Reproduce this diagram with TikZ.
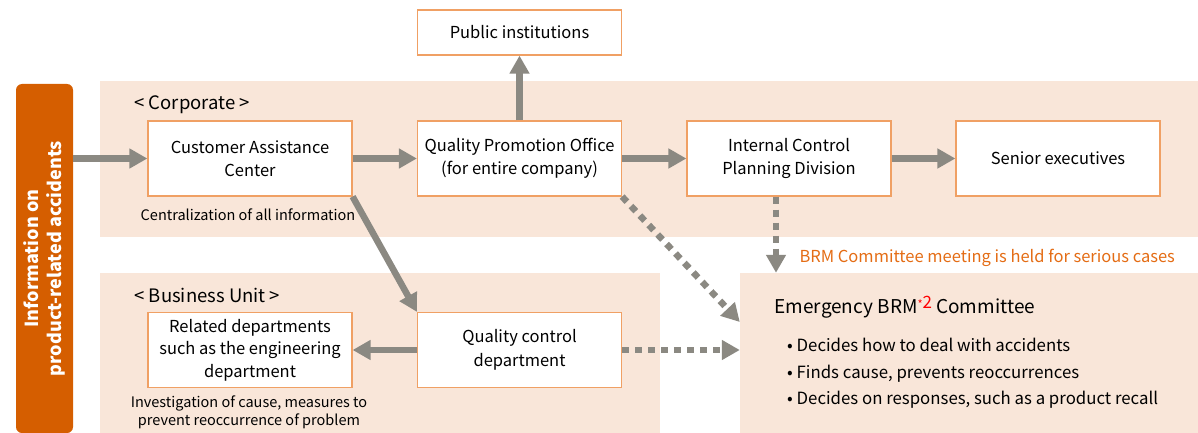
\documentclass[tikz,border=0pt]{standalone}
\usepackage{fontspec}
\setmainfont{Noto Sans CJK JP}
\usetikzlibrary{arrows.meta, positioning, calc}
\definecolor{bandpeach}{RGB}{249,230,217}
\definecolor{infoorange}{RGB}{213,94,0}
\definecolor{boxedge}{RGB}{240,160,100}
\definecolor{arrowgray}{RGB}{139,137,130}
\definecolor{noteorange}{RGB}{228,108,20}

\tikzset{
  unitbox/.style={draw=boxedge, line width=1.2pt, fill=white, inner sep=0pt,
    minimum width=204pt, minimum height=75pt, align=center,
    font=\fontsize{16.5}{23.5}\selectfont},
  infotag/.style={fill=infoorange, text=white, rounded corners=6pt, rotate=90,
    minimum width=349pt, minimum height=57pt, inner sep=0pt, align=center,
    font=\bfseries\fontsize{18}{23.5}\selectfont},
  flowarrow/.style={draw=arrowgray, line width=6.5pt,
    -{Triangle[length=18pt,width=19pt]}},
  dotarrow/.style={flowarrow, dash pattern=on 7pt off 6pt},
  caption/.style={anchor=base, align=center, font=\fontsize{14.5}{18}\selectfont},
  unitlabel/.style={anchor=base west, font=\fontsize{18.5}{21}\selectfont}
}

\begin{document}
\begin{tikzpicture}[x=1pt, y=-1pt]
  \useasboundingbox (0,0) rectangle (1198,433);

  % Bands
  \fill[bandpeach] (100,81) rectangle (1198,237);
  \fill[bandpeach] (100,273) rectangle (660,433);
  \node[fill=bandpeach, minimum width=458pt, minimum height=160pt, inner sep=0pt]
    (emerg) at (969,353) {};

  % Information source
  \node[infotag] (info) at (44.5,258.5) {Information on\\product-related accidents};

  % Corporate
  \node[unitlabel] at (131,110) {< Corporate >};
  \node[unitbox, minimum height=45pt] (pub) at (519.5,32.5) {Public institutions};
  \node[unitbox] (cac) at (250,158.5) {Customer Assistance\\Center};
  \node[unitbox] (qpo) at (519.5,158.5) {Quality Promotion Office\\(for entire company)};
  \node[unitbox] (icpd) at (789,158.5) {Internal Control\\Planning Division};
  \node[unitbox] (senior) at (1058,158.5) {Senior executives};
  \node[caption] at (248,220) {Centralization of all information};

  % Business Unit
  \node[unitlabel] at (131,302) {< Business Unit >};
  \node[unitbox, font=\fontsize{16.5}{22.5}\selectfont] (rel) at (250,350)
    {Related departments\\such as the engineering\\department};
  \node[unitbox] (qcd) at (519.5,350) {Quality control\\department};
  \node[caption] at (249,425) {Investigation of cause, measures to\\prevent reoccurrence of problem};

  % Emergency committee
  \node[anchor=base west, text=noteorange, font=\fontsize{16.5}{20}\selectfont]
    at (796,262) {BRM Committee meeting is held for serious cases};
  \node[anchor=base west, font=\fontsize{19}{22}\selectfont] at (771,313)
    {Emergency BRM\raisebox{5pt}{\textcolor{red}{\fontsize{11}{11}\selectfont*\fontsize{17}{17}\selectfont2}} Committee};
  \node[anchor=north west, align=left, inner sep=0pt, font=\fontsize{16.8}{26.5}\selectfont]
    at (787,338) {• Decides how to deal with accidents\\
      • Finds cause, prevents reoccurrences\\
      • Decides on responses, such as a product recall};

  % Arrows
  \draw[flowarrow] (info.south |- cac.west) -- (cac.west);
  \draw[flowarrow] (cac) -- (qpo);
  \draw[flowarrow] (qpo) -- (icpd);
  \draw[flowarrow] (icpd) -- (senior);
  \draw[flowarrow] (qpo) -- (pub);
  \draw[flowarrow] (cac.south east) -- (qcd.north west);
  \draw[flowarrow] (qcd) -- (rel);

  % Dotted arrows to the committee
  \coordinate (drop) at ([xshift=-13pt]icpd.south);
  \draw[dotarrow] (drop) -- (drop |- emerg.north);
  \draw[dotarrow] (qpo.south east) -- ([yshift=31pt]emerg.west);
  \draw[dotarrow] (qcd.east) -- (emerg.west |- qcd.east);
\end{tikzpicture}
\end{document}
